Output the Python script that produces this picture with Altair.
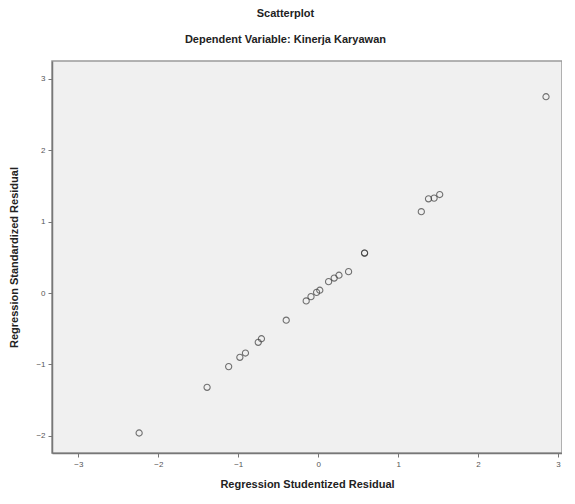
import altair as alt
import pandas as pd

x_resid = [2.85, 1.29, 1.38, 1.45, 1.52, 0.58, 0.58, 0.38, 0.26, 0.20, 0.13,
           0.02, -0.02, -0.09, -0.15, -0.40, -0.71, -0.75, -0.91, -0.98,
           -1.12, -1.39, -2.24]
y_resid = [2.75, 1.14, 1.32, 1.33, 1.38, 0.56, 0.56, 0.30, 0.25, 0.21, 0.16,
           0.04, 0.01, -0.05, -0.11, -0.38, -0.64, -0.69, -0.84, -0.90,
           -1.03, -1.32, -1.96]
x_ticks = [-3, -2, -1, 0, 1, 2, 3]
y_ticks = [-2, -1, 0, 1, 2, 3]

df = pd.DataFrame({"x": x_resid, "y": y_resid})

FONT = "Liberation Sans"

chart = alt.Chart(df).mark_point(
    shape="circle", filled=False, size=38, stroke="#3a3a3a", strokeWidth=1.1
).encode(
    x=alt.X("x:Q", scale=alt.Scale(domain=[-3.33, 3.05], nice=False, zero=False),
            axis=alt.Axis(values=x_ticks, title="Regression Studentized Residual",
                          grid=False, format="d")),
    y=alt.Y("y:Q", scale=alt.Scale(domain=[-2.24, 3.25], nice=False, zero=False),
            axis=alt.Axis(values=y_ticks, title="Regression Standardized Residual",
                          grid=False, format="d")),
).properties(
    width=510,
    height=392,
    background="white",
    padding={"left": 0, "top": 0, "right": 0, "bottom": 6},
    title=alt.TitleParams(
        text="Scatterplot",
        subtitle="Dependent Variable: Kinerja Karyawan",
        anchor="middle",
        frame="bounds",
        font=FONT,
        fontSize=11,
        fontWeight="bold",
        color="#222",
        subtitleFont=FONT,
        subtitleFontSize=11,
        subtitleFontWeight="bold",
        subtitleColor="#222",
        subtitlePadding=15,
        offset=16,
    ),
).configure_view(
    fill="#f0f0f0", stroke="#9a9a9a", strokeWidth=1.5
).configure_axis(
    domainColor="#777", domainWidth=1.5,
    tickColor="#777", tickSize=4,
    labelFont=FONT, labelFontSize=8, labelColor="#555",
    titleFont=FONT, titleFontSize=11, titleFontWeight="bold", titleColor="#222",
).configure_axisY(
    titlePadding=16, labelPadding=3
).configure_axisX(
    titlePadding=10, labelPadding=3
)

chart.save("out.html", embed_options={"renderer": "svg", "actions": False})
